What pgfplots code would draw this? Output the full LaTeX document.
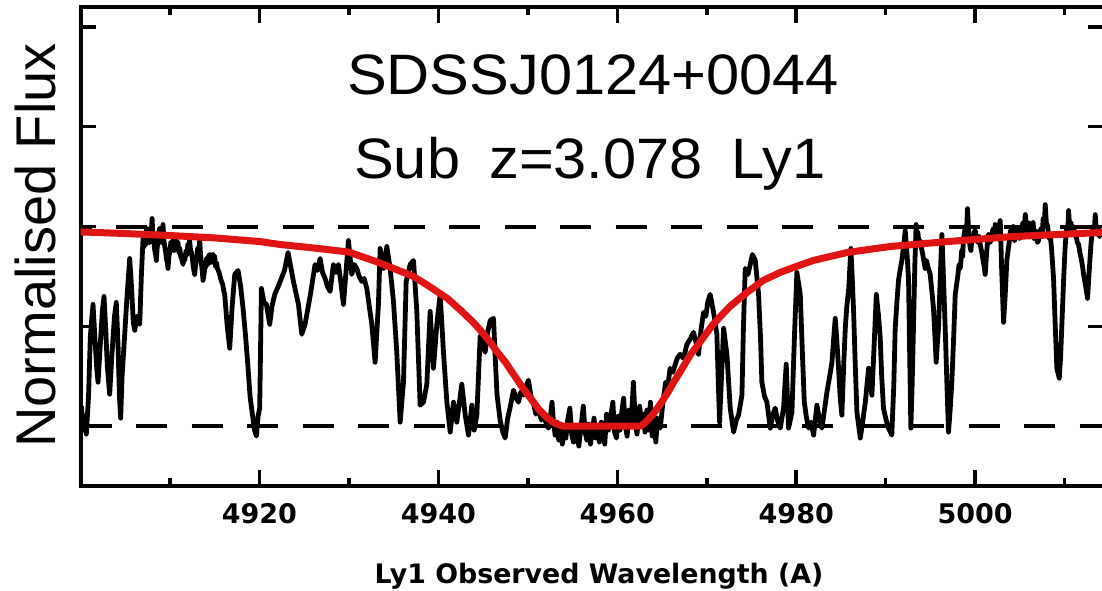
\documentclass[border=0pt]{standalone}
\usepackage{fontspec}
\setmainfont{Liberation Sans}
\newfontfamily\titlefont[FakeStretch=1.045]{Liberation Sans}
\newfontfamily\dvs{DejaVu Sans}
\usepackage{pgfplots}
\pgfplotsset{compat=1.18}
\definecolor{fitred}{RGB}{225,20,20}
\pgfplotstableread{
lam flux
4900.1 0.10
4900.3 -0.02
4900.5 0.05
4900.65 -0.04
4900.9 0.15
4901.1 0.45
4901.4 0.61
4901.6 0.45
4901.8 0.30
4901.96 0.22
4902.2 0.40
4902.45 0.58
4902.63 0.65
4902.8 0.50
4903.0 0.30
4903.26 0.16
4903.5 0.35
4903.8 0.55
4904.0 0.62
4904.2 0.40
4904.35 0.15
4904.49 0.04
4904.65 0.25
4904.94 0.46
4905.2 0.65
4905.5 0.84
4905.7 0.70
4905.9 0.52
4906.06 0.48
4906.3 0.55
4906.62 0.51
4906.8 0.75
4906.99 0.94
4907.1 0.90
4907.2 0.96
4907.28 0.91
4907.36 0.99
4907.48 0.93
4907.6 0.97
4907.7 0.92
4907.8 0.99
4907.9 0.96
4908.0 1.04
4908.1 0.95
4908.2 0.93
4908.3 0.88
4908.4 0.86
4908.48 0.83
4908.56 0.89
4908.65 0.92
4908.75 0.97
4908.85 0.99
4908.92 0.94
4909.0 0.96
4909.1 0.92
4909.22 1.01
4909.32 0.93
4909.42 0.90
4909.5 0.88
4909.6 0.84
4909.7 0.82
4909.78 0.79
4909.88 0.85
4910.0 0.88
4910.1 0.92
4910.2 0.89
4910.34 0.93
4910.45 0.88
4910.52 0.92
4910.6 0.89
4910.7 0.93
4910.8 0.89
4910.9 0.92
4911.0 0.87
4911.1 0.89
4911.2 0.85
4911.3 0.84
4911.46 0.81
4911.55 0.85
4911.65 0.83
4911.8 0.88
4911.9 0.86
4912.0 0.91
4912.1 0.89
4912.2 0.93
4912.3 0.88
4912.4 0.87
4912.5 0.84
4912.6 0.80
4912.76 0.76
4912.85 0.80
4913.0 0.85
4913.1 0.89
4913.2 0.87
4913.32 0.93
4913.42 0.86
4913.5 0.82
4913.6 0.78
4913.7 0.73
4913.8 0.76
4913.9 0.79
4914.0 0.80
4914.1 0.84
4914.2 0.81
4914.3 0.85
4914.44 0.86
4914.55 0.82
4914.62 0.85
4914.7 0.83
4914.8 0.86
4914.9 0.82
4915.0 0.85
4915.1 0.80
4915.2 0.82
4915.3 0.79
4915.4 0.78
4915.56 0.76
4915.65 0.74
4915.8 0.72
4915.9 0.71
4916.0 0.68
4916.12 0.66
4916.4 0.50
4916.68 0.39
4916.95 0.60
4917.24 0.76
4917.61 0.78
4917.9 0.70
4918.17 0.59
4918.45 0.45
4918.73 0.29
4918.95 0.15
4919.18 0.07
4919.45 -0.02
4919.66 -0.05
4919.85 0.05
4920.03 0.09
4920.22 0.69
4920.5 0.62
4920.78 0.61
4921.0 0.55
4921.15 0.51
4921.4 0.60
4921.71 0.66
4922.1 0.70
4922.45 0.74
4922.8 0.78
4923.2 0.87
4923.8 0.725
4924.36 0.61
4924.73 0.46
4925.1 0.51
4925.7 0.66
4926.22 0.81
4926.5 0.78
4926.78 0.84
4927.05 0.77
4927.34 0.74
4927.6 0.70
4927.9 0.675
4928.27 0.81
4928.55 0.77
4928.83 0.81
4929.1 0.72
4929.39 0.61
4929.95 0.93
4930.32 0.76
4930.6 0.81
4930.88 0.79
4931.15 0.75
4931.44 0.725
4931.7 0.74
4932.0 0.69
4932.56 0.51
4932.93 0.32
4933.3 0.61
4933.49 0.89
4933.86 0.79
4934.24 0.90
4934.61 0.79
4934.98 0.625
4935.35 0.37
4935.73 0.02
4936.1 0.22
4936.4 0.725
4936.85 0.81
4937.22 0.83
4937.59 0.575
4937.96 0.105
4938.34 0.12
4938.71 0.21
4939.08 0.575
4939.45 0.29
4939.83 0.51
4940.2 0.66
4940.57 0.37
4940.95 0.12
4941.32 -0.03
4941.69 0.12
4942.06 0.02
4942.62 0.21
4943.0 0.055
4943.37 -0.045
4943.74 0.105
4944.0 -0.02
4944.3 0.055
4944.67 0.45
4945.0 0.40
4945.23 0.37
4945.5 0.47
4945.8 0.53
4946.16 0.54
4946.35 0.35
4946.55 0.16
4946.9 0.03
4947.2 -0.03
4947.47 -0.06
4947.75 0.04
4948.0 0.09
4948.4 0.18
4948.7 0.14
4948.95 0.12
4949.2 0.17
4949.5 0.155
4949.8 0.20
4950.07 0.23
4950.35 0.15
4950.6 0.12
4950.9 0.06
4951.2 0.09
4951.5 0.03
4951.75 0.07
4952.0 0.02
4952.3 -0.01
4952.5 0.04
4952.7 0.12
4952.85 0.03
4953.05 -0.045
4953.25 0.02
4953.45 -0.07
4953.65 0.01
4953.85 -0.09
4954.05 -0.02
4954.25 -0.06
4954.45 0.03
4954.7 0.09
4954.9 -0.04
4955.1 -0.08
4955.3 0.0
4955.5 -0.05
4955.7 -0.1
4955.9 -0.02
4956.2 0.10
4956.4 -0.03
4956.6 -0.07
4956.8 0.01
4957.0 -0.09
4957.2 -0.03
4957.4 0.04
4957.6 -0.06
4957.8 -0.01
4958.0 -0.08
4958.2 0.02
4958.4 -0.04
4958.6 -0.09
4958.8 0.06
4959.0 -0.02
4959.2 0.03
4959.5 0.12
4959.7 -0.03
4959.9 -0.06
4960.1 0.05
4960.3 -0.02
4960.5 0.07
4960.7 0.14
4960.9 0.0
4961.1 -0.05
4961.3 0.08
4961.55 0.02
4961.8 0.22
4962.0 0.03
4962.2 -0.04
4962.5 0.10
4962.7 0.01
4962.9 0.06
4963.1 -0.03
4963.3 0.08
4963.5 -0.02
4963.7 0.12
4963.9 -0.05
4964.1 0.06
4964.3 -0.08
4964.5 0.04
4964.8 -0.01
4965.1 0.12
4965.4 0.22
4965.65 0.20
4965.9 0.29
4966.2 0.27
4966.7 0.34
4967.03 0.36
4967.4 0.34
4967.78 0.41
4968.2 0.44
4968.52 0.47
4968.8 0.42
4969.08 0.36
4969.35 0.48
4969.64 0.57
4969.9 0.55
4970.1 0.62
4970.38 0.66
4970.76 0.57
4971.13 0.46
4971.3 0.20
4971.43 0.02
4971.6 0.20
4971.88 0.49
4972.25 0.36
4972.62 0.09
4973.0 -0.03
4973.3 0.03
4973.55 0.055
4973.93 0.155
4974.1 0.50
4974.3 0.79
4974.6 0.76
4974.86 0.81
4975.1 0.86
4975.42 0.83
4975.79 0.66
4976.0 0.45
4976.16 0.22
4976.45 0.15
4976.72 0.12
4977.1 -0.01
4977.4 0.06
4977.65 0.09
4977.9 0.03
4978.21 -0.01
4978.58 0.09
4978.88 0.31
4979.14 -0.01
4979.52 0.07
4979.8 0.45
4980.07 0.77
4980.45 0.66
4980.7 0.35
4980.9 0.12
4981.15 0.04
4981.38 -0.01
4981.65 0.02
4981.94 -0.045
4982.31 0.105
4982.6 0.03
4982.87 -0.01
4983.15 0.08
4983.43 0.17
4983.7 0.24
4983.99 0.32
4984.2 0.45
4984.36 0.54
4984.55 0.42
4984.73 0.29
4984.9 0.15
4985.1 0.055
4985.3 0.30
4985.48 0.49
4985.65 0.60
4985.85 0.68
4986.11 0.89
4986.25 0.75
4986.41 0.575
4986.6 0.30
4986.78 0.07
4987.16 -0.06
4987.45 0.03
4987.72 0.12
4988.09 0.29
4988.3 0.20
4988.46 0.155
4988.7 0.40
4988.95 0.66
4989.2 0.55
4989.38 0.45
4989.55 0.25
4989.75 0.09
4990.05 0.03
4990.31 -0.01
4990.68 -0.045
4990.9 0.20
4991.06 0.49
4991.25 0.62
4991.43 0.73
4991.6 0.78
4991.8 0.83
4992.0 0.90
4992.18 0.98
4992.4 0.85
4992.55 0.74
4992.7 0.30
4992.81 -0.01
4992.95 0.20
4993.1 0.49
4993.25 0.80
4993.4 1.01
4993.5 0.94
4993.6 0.97
4993.72 0.91
4993.85 0.93
4994.0 0.89
4994.1 0.87
4994.25 0.83
4994.41 0.79
4994.55 0.83
4994.7 0.80
4994.85 0.78
4994.97 0.76
4995.15 0.68
4995.34 0.59
4995.5 0.45
4995.64 0.32
4995.75 0.40
4995.9 0.49
4996.1 0.75
4996.28 0.96
4996.45 0.75
4996.65 0.49
4996.85 0.20
4997.02 -0.03
4997.2 0.08
4997.39 0.22
4997.6 0.45
4997.77 0.66
4998.05 0.75
4998.2 0.81
4998.33 0.79
4998.5 0.88
4998.6 0.85
4998.7 0.94
4998.9 1.00
4999.02 0.96
4999.14 1.09
4999.3 0.95
4999.42 0.90
4999.52 0.88
4999.65 0.95
4999.75 0.93
4999.88 0.97
5000.0 0.98
5000.15 0.94
5000.3 0.92
5000.42 0.95
5000.56 0.91
5000.7 0.88
5000.85 0.84
5001.0 0.80
5001.12 0.76
5001.3 0.88
5001.4 0.93
5001.5 0.96
5001.65 0.92
5001.85 0.94
5001.95 0.98
5002.05 0.99
5002.15 0.95
5002.24 1.01
5002.35 0.96
5002.5 0.97
5002.65 1.00
5002.8 1.03
5002.95 0.80
5003.17 0.52
5003.35 0.65
5003.54 0.83
5003.68 0.88
5003.8 0.92
5003.95 0.98
5004.1 0.96
5004.25 1.00
5004.4 0.93
5004.5 0.97
5004.6 0.99
5004.72 0.95
5004.85 0.99
5004.95 0.94
5005.1 0.95
5005.22 1.00
5005.35 1.02
5005.48 0.98
5005.6 1.06
5005.72 1.00
5005.85 0.97
5005.95 1.02
5006.1 1.01
5006.22 0.96
5006.34 0.98
5006.48 1.02
5006.6 0.94
5006.72 0.98
5006.85 0.97
5006.95 0.92
5007.08 0.93
5007.2 0.97
5007.35 0.99
5007.48 0.95
5007.6 1.04
5007.72 1.00
5007.83 1.11
5007.95 1.02
5008.1 1.00
5008.25 0.94
5008.39 0.96
5008.55 0.88
5008.76 0.74
5008.95 0.50
5009.13 0.29
5009.4 0.24
5009.55 0.35
5009.69 0.51
5009.9 0.75
5010.07 0.91
5010.25 1.00
5010.34 0.96
5010.44 1.08
5010.55 1.00
5010.7 1.02
5010.85 0.97
5011.0 1.00
5011.15 0.96
5011.3 0.95
5011.42 0.92
5011.56 0.91
5011.7 0.87
5011.85 0.84
5012.0 0.80
5012.12 0.76
5012.35 0.70
5012.56 0.64
5012.75 0.78
5012.94 0.91
5013.05 0.96
5013.2 1.00
5013.3 0.97
5013.42 1.06
5013.52 0.99
5013.6 1.00
5013.7 0.96
5013.79 0.99
5013.9 0.95
5014.0 0.97
5014.2 0.96
5014.5 0.98
}\spectrum
\pgfplotstableread{
lam flux
4900 0.973
4905 0.965
4910 0.955
4915 0.943
4920 0.925
4922.3 0.91
4926 0.893
4930 0.872
4933 0.825
4935 0.79
4937.2 0.75
4939 0.70
4941 0.64
4942.5 0.58
4943.9 0.52
4944.7 0.48
4945.8 0.42
4946.6 0.37
4947.5 0.32
4948.4 0.26
4949.3 0.20
4950.3 0.14
4951.2 0.085
4952.2 0.04
4953 0.015
4953.9 0.0
4962.6 0.0
4963.3 0.025
4964 0.06
4964.8 0.11
4965.6 0.165
4966.3 0.22
4967 0.27
4968.2 0.36
4968.9 0.40
4970.7 0.51
4972.6 0.60
4974.5 0.67
4976.3 0.73
4978.2 0.77
4980 0.80
4981.9 0.83
4985.7 0.87
4990.5 0.90
4997 0.925
5004.3 0.95
5014 0.97
5015 0.97
}\fit
\begin{document}
\begin{tikzpicture}
\useasboundingbox (0,0) rectangle (1102pt,591pt);
\begin{axis}[
  at={(80.5pt,105pt)}, anchor=south west,
  scale only axis, width=1023.5pt, height=479pt,
  xmin=4900, xmax=5014.4, ymin=-0.3, ymax=2.1,
  axis line style={line width=4pt},
  xtick={4920,4940,4960,4980,5000},
  xticklabels={4920,4940,4960,4980,5000},
  minor xtick={4910,4930,4950,4970,4990,5010},
  ytick={0,0.5,1,1.5,2}, yticklabels={},
  tick align=inside,
  major tick length=16pt, minor tick length=8pt,
  tick style={black, line width=3.5pt},
  xticklabel style={font=\dvs\bfseries\fontsize{27pt}{27pt}\selectfont, inner sep=0pt, yshift=-17pt},
  clip=true,
]
\addplot[black, line width=4pt, dash pattern=on 31pt off 24.5pt] coordinates {(4900,0) (5014.4,0)};
\addplot[black, line width=4pt, dash pattern=on 31pt off 24.5pt, dash phase=20pt] coordinates {(4900,1) (5014.4,1)};
\addplot[black, line width=4.8pt, line join=round] table[x=lam, y=flux] {\spectrum};
\addplot[fitred, line width=7pt, line join=round] table[x=lam, y=flux] {\fit};
\end{axis}
\node[font=\titlefont\fontsize{57pt}{57pt}\selectfont, anchor=base, inner sep=0pt] at (593pt,496pt) {SDSSJ0124+0044};
\node[font=\titlefont\fontsize{57pt}{57pt}\selectfont, anchor=base, inner sep=0pt] at (590pt,412pt) {Sub\hspace{0.22em} z=3.078\hspace{0.22em} Ly1};
\node[font=\fontsize{56pt}{56pt}\selectfont, rotate=90, anchor=base, inner sep=0pt] at (55pt,345.5pt) {Normalised Flux};
\node[font=\dvs\bfseries\fontsize{26.8pt}{27pt}\selectfont, anchor=base, inner sep=0pt] at (599pt,7pt) {Ly1 Observed Wavelength (A)};
\end{tikzpicture}
\end{document}
